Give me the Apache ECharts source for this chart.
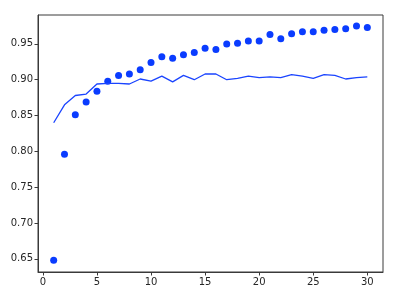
<!DOCTYPE html>
<html>
<head>
<meta charset="utf-8">
<script src="https://cdn.jsdelivr.net/npm/echarts@6/dist/echarts.min.js"></script>
<style>html,body{margin:0;padding:0;background:#fff}#c{width:400px;height:294px}</style>
</head>
<body>
<div id="c"></div>
<script>
const epochs = [1,2,3,4,5,6,7,8,9,10,11,12,13,14,15,16,17,18,19,20,21,22,23,24,25,26,27,28,29,30];
const trainAcc = [0.648,0.796,0.851,0.869,0.884,0.898,0.906,0.908,0.914,0.924,0.932,0.930,0.935,0.938,0.944,0.942,0.950,0.951,0.954,0.954,0.963,0.957,0.964,0.967,0.967,0.969,0.970,0.971,0.975,0.973];
const valAcc = [0.840,0.865,0.878,0.880,0.894,0.895,0.895,0.894,0.901,0.898,0.905,0.897,0.906,0.900,0.908,0.908,0.900,0.902,0.905,0.903,0.904,0.903,0.907,0.905,0.902,0.907,0.906,0.901,0.903,0.904];
const xTicks = [0,5,10,15,20,25,30];
const yTicks = [0.65,0.70,0.75,0.80,0.85,0.90,0.95];

const chart = echarts.init(document.getElementById('c'), null, {renderer:'canvas'});
const font = {fontFamily:'DejaVu Sans', fontSize:10, color:'#262626'};
chart.setOption({
  animation:false,
  grid:{left:38, top:15, right:17, bottom:22, show:true, borderColor:'#3a3a3a', borderWidth:1, backgroundColor:'#fff'},
  xAxis:{type:'value', min:-0.45, max:31.45,
    axisLine:{show:true, onZero:false, lineStyle:{color:'#3a3a3a'}},
    splitLine:{show:false},
    axisTick:{show:true, inside:false, length:3.5, lineStyle:{color:'#3a3a3a'}, customValues:xTicks},
    axisLabel:Object.assign({margin:5, customValues:xTicks, formatter:v=>String(v)}, font)},
  yAxis:{type:'value', min:0.6317, max:0.9903,
    axisLine:{show:true, onZero:false, lineStyle:{color:'#3a3a3a'}},
    splitLine:{show:false},
    axisTick:{show:true, inside:false, length:3.5, lineStyle:{color:'#3a3a3a'}, customValues:yTicks},
    axisLabel:Object.assign({margin:5, customValues:yTicks, formatter:v=>v.toFixed(2)}, font)},
  series:[
    {type:'scatter', data:epochs.map((e,i)=>[e,trainAcc[i]]), symbol:'circle', symbolSize:7,
      itemStyle:{color:'#0a3cff', opacity:1}},
    {type:'line', data:epochs.map((e,i)=>[e,valAcc[i]]), showSymbol:false, symbol:'none',
      lineStyle:{color:'#1a44ff', width:1.3}}
  ]
});
</script>
</body>
</html>
